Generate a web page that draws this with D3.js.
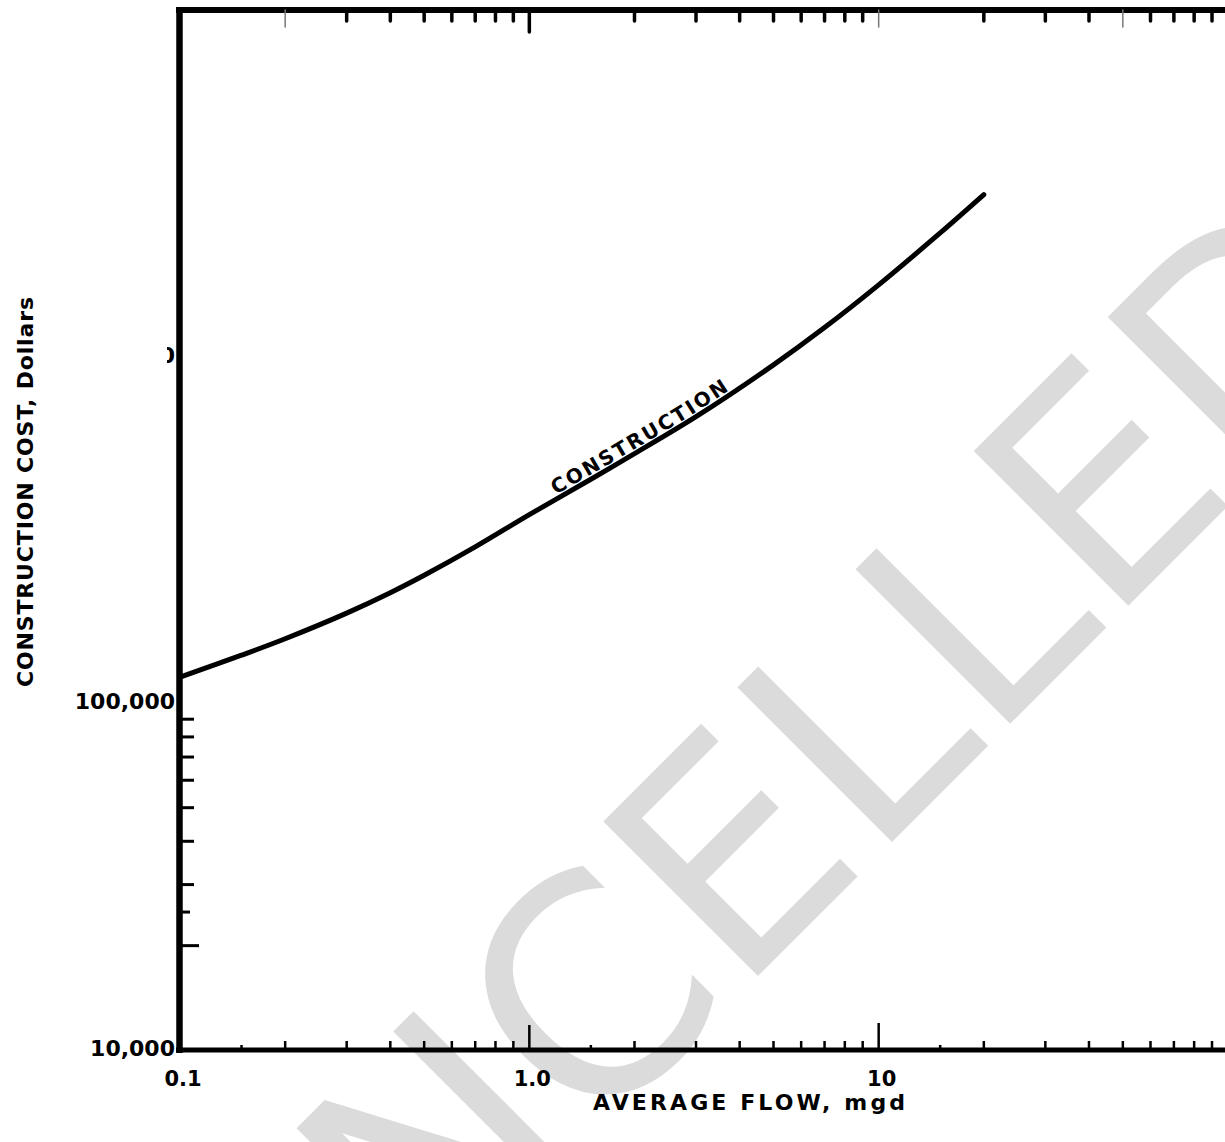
<!DOCTYPE html>
<html>
<head>
<meta charset="utf-8">
<script src="https://cdn.jsdelivr.net/npm/d3@7"></script>
<style>
  body { margin: 0; background: #fff; }
  svg { display: block; }
  text { font-family: "DejaVu Sans", sans-serif; font-weight: bold; fill: #000; }
</style>
</head>
<body>
<div id="chart"></div>
<script>
// curve (flow in mgd, cost in dollars)
const flow = [0.1, 0.15, 0.2, 0.3, 0.4, 0.5, 0.7, 1.0, 1.5, 2, 3, 5, 7, 10, 15, 20];
const cost = [119000, 137700, 153600, 182100, 208500, 234100, 282700, 350200,
              443000, 525000, 671000, 947000, 1213000, 1611000, 2275000, 2935000];

const xLabelValues = [0.1, 1, 10];
const xLabels = ["0.1", "1.0", "10"];
const yLabelValues = [10000, 100000, 1000000];
const yLabels = ["10,000", "100,000", "1,000,000"];

const decades = [0.1, 1, 10];
const bottomMinor = [1.5, 2, 3, 4, 5, 6, 7, 8, 9];
const topMinor = [2, 3, 4, 5, 6, 7, 8, 9];
const yMinor = [20000, 25000, 30000, 40000, 50000, 60000, 70000, 80000, 90000];

const W = 1225, H = 1142;
const svg = d3.select("#chart").append("svg").attr("width", W).attr("height", H);

const x = d3.scaleLog().domain([0.1, 100]).range([180, 1228]);
const y = d3.scaleLog().domain([1e4, 1e7]).range([1050, 10]);

// watermark
svg.append("text")
    .attr("transform", "translate(771,963) rotate(-45)")
    .attr("text-anchor", "middle")
    .style("font-weight", "normal")
    .style("font-size", "300px")
    .style("fill", "#dbdbdb")
    .text("CANCELLED");

// frame
const xLeft = x.range()[0], yBottom = y.range()[0], yTop = y.range()[1];
svg.append("line").attr("x1", xLeft - 4).attr("x2", W).attr("y1", yTop).attr("y2", yTop)
    .attr("stroke", "#000").attr("stroke-width", 6);
svg.append("line").attr("x1", xLeft - 4).attr("x2", W).attr("y1", yBottom).attr("y2", yBottom)
    .attr("stroke", "#000").attr("stroke-width", 5);
svg.append("line").attr("x1", xLeft - 0.5).attr("x2", xLeft - 0.5).attr("y1", yTop - 3).attr("y2", yBottom + 3)
    .attr("stroke", "#000").attr("stroke-width", 6.5);

// bottom ticks
const bMinor = decades.flatMap(d => bottomMinor.map(m => ({ v: d * m, len: m === 1.5 ? 5 : 9 })));
svg.selectAll(".bmin").data(bMinor).enter().append("line")
    .attr("x1", d => x(d.v)).attr("x2", d => x(d.v))
    .attr("y1", yBottom).attr("y2", d => yBottom - d.len)
    .attr("stroke", "#000").attr("stroke-width", 2.5);
svg.selectAll(".bmaj").data([1, 10]).enter().append("line")
    .attr("x1", d => x(d)).attr("x2", d => x(d))
    .attr("y1", yBottom).attr("y2", d => yBottom - (d === 1 ? 25 : 27))
    .attr("stroke", "#000").attr("stroke-width", 2.5);

// top ticks
const thin = [0.2, 10, 50];
const isThin = d => thin.some(t => Math.abs(t - d) < 1e-9);
const tTicks = decades.flatMap(d => topMinor.map(m => d * m)).concat([1, 10]);
svg.selectAll(".tt").data(tTicks).enter().append("line")
    .attr("x1", d => x(d)).attr("x2", d => x(d))
    .attr("y1", yTop)
    .attr("y2", d => d === 1 ? yTop + 22 : isThin(d) ? yTop + 17 : yTop + 11)
    .attr("stroke", d => isThin(d) ? "#777" : "#000")
    .attr("stroke-width", d => isThin(d) ? 1.5 : 3.5)
    .attr("stroke-linecap", "round");

// left ticks
svg.selectAll(".lt").data(yMinor).enter().append("line")
    .attr("x1", xLeft).attr("x2", d => xLeft + (d === 20000 ? 19 : d === 25000 ? 10 : 14))
    .attr("y1", d => y(d)).attr("y2", d => y(d))
    .attr("stroke", "#000").attr("stroke-width", 3);

// tick labels
svg.append("defs").append("clipPath").attr("id", "mclip")
    .append("rect").attr("x", xLeft - 13).attr("y", 0).attr("width", 20).attr("height", H);

svg.selectAll(".yl").data(yLabelValues).enter().append("text")
    .attr("x", xLeft - 5).attr("y", d => y(d)).attr("dy", 6)
    .attr("text-anchor", "end")
    .attr("clip-path", d => d === 1000000 ? "url(#mclip)" : null)
    .style("font-size", "22px")
    .text((d, i) => yLabels[i]);

svg.selectAll(".xl").data(xLabelValues).enter().append("text")
    .attr("x", d => x(d) + 3).attr("y", yBottom + 36)
    .attr("text-anchor", "middle")
    .style("font-size", "21px")
    .text((d, i) => xLabels[i]);

// axis titles
svg.append("text")
    .attr("x", 593).attr("y", 1110)
    .attr("textLength", 312).attr("lengthAdjust", "spacing")
    .style("font-size", "22px")
    .text("AVERAGE FLOW, mgd");

svg.append("text")
    .attr("transform", "translate(33,687) rotate(-90)")
    .attr("textLength", 390).attr("lengthAdjust", "spacing")
    .style("font-size", "22px")
    .text("CONSTRUCTION COST, Dollars");

// curve
const pts = flow.map((f, i) => [x(f), y(cost[i])]);
const line = d3.line().curve(d3.curveCatmullRom.alpha(0.5));
svg.append("path")
    .attr("id", "constr")
    .attr("d", line(pts))
    .attr("fill", "none")
    .attr("stroke", "#000")
    .attr("stroke-width", 5)
    .attr("stroke-linecap", "round");

// label along curve
const pathNode = svg.select("#constr").node();
const total = pathNode.getTotalLength();
let start = 0;
for (let l = 0; l < total; l += 1) {
    if (pathNode.getPointAtLength(l).x >= x(1.2)) { start = l; break; }
}
svg.append("text")
    .attr("dy", -4)
    .style("font-size", "20px")
    .append("textPath")
    .attr("href", "#constr")
    .attr("startOffset", start)
    .attr("textLength", 203)
    .attr("lengthAdjust", "spacing")
    .text("CONSTRUCTION");
</script>
</body>
</html>
